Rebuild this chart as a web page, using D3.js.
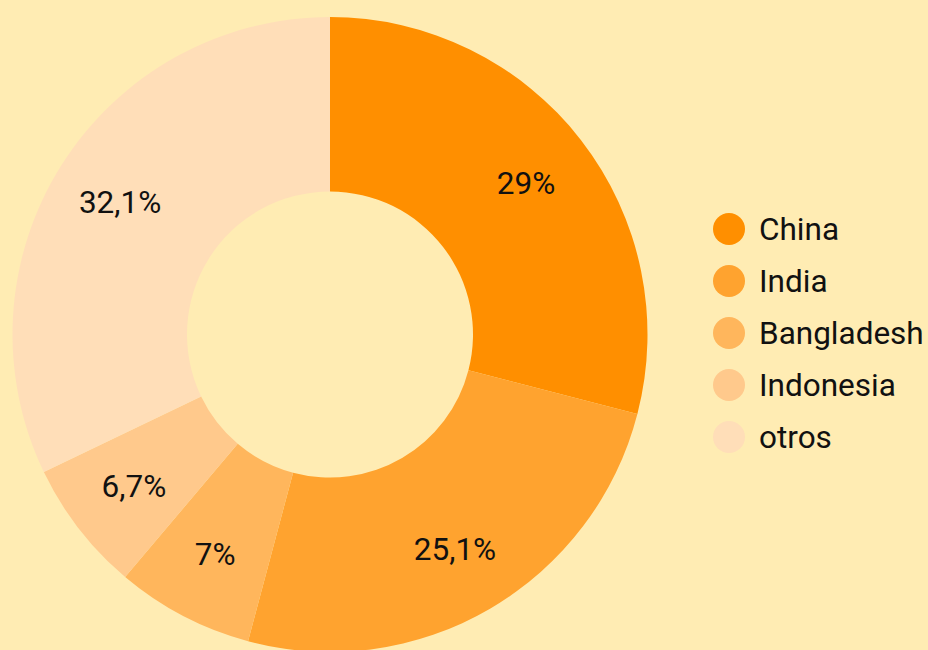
<!DOCTYPE html>
<html>
<head>
<meta charset="utf-8">
<script src="https://cdn.jsdelivr.net/npm/d3@7"></script>
<style>
  html, body { margin: 0; padding: 0; background: #FFECB3; }
  svg { display: block; }
  text { font-family: Roboto, "Noto Sans", sans-serif; fill: #111; }
</style>
</head>
<body>
<svg id="chart" width="928" height="650"></svg>
<script>
// Share by country (percent)
const countries = ["China", "India", "Bangladesh", "Indonesia", "otros"];
const shares = [29, 25.1, 7, 6.7, 32.1];
const sliceColors = ["#FF8F00", "#FFA32F", "#FFB65C", "#FFC98C", "#FFDEB8"];

const width = 928, height = 650;
const cx = 330, cy = 334.5;
const outerR = 317.5, innerR = 143;
const labelR = 248;
const fontSize = 31.5;

const fmt = v => String(v).replace(".", ",") + "%";

const data = countries.map((c, i) => ({ name: c, value: shares[i] }));

const color = d3.scaleOrdinal().domain(countries).range(sliceColors);

const pie = d3.pie().value(d => d.value).sort(null);
const arc = d3.arc().innerRadius(innerR).outerRadius(outerR);
const labelArc = d3.arc().innerRadius(labelR).outerRadius(labelR);

const svg = d3.select("#chart");
svg.append("rect").attr("width", width).attr("height", height).attr("fill", "#FFECB3");

const g = svg.append("g").attr("transform", `translate(${cx},${cy})`);
const arcs = pie(data);

g.selectAll("path.slice")
  .data(arcs)
  .join("path")
  .attr("class", "slice")
  .attr("d", arc)
  .attr("fill", d => color(d.data.name));

g.selectAll("text.pct")
  .data(arcs)
  .join("text")
  .attr("class", "pct")
  .attr("text-anchor", "middle")
  .attr("font-size", fontSize)
  .attr("x", d => labelArc.centroid(d)[0])
  .attr("y", d => labelArc.centroid(d)[1] + fontSize * 0.345)
  .text(d => fmt(d.data.value));

// Legend
const legend = svg.append("g").attr("transform", "translate(729,229)");
const rowGap = 52;
const items = legend.selectAll("g.item")
  .data(countries)
  .join("g")
  .attr("class", "item")
  .attr("transform", (d, i) => `translate(0,${i * rowGap})`);

items.append("circle")
  .attr("r", 16)
  .attr("fill", d => color(d));

items.append("text")
  .attr("x", 30)
  .attr("y", fontSize * 0.345)
  .attr("font-size", fontSize)
  .text(d => d);
</script>
</body>
</html>
